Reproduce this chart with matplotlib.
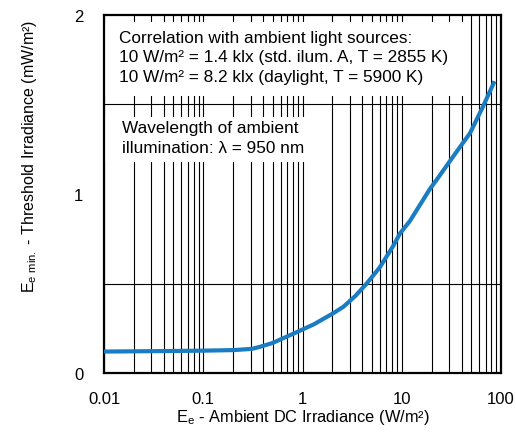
import matplotlib
matplotlib.use('Agg')
import matplotlib.pyplot as plt
from matplotlib.patches import Rectangle
from matplotlib.ticker import FixedLocator, LogLocator, NullFormatter

plt.rcParams['font.family'] = ['Liberation Sans', 'DejaVu Sans']
plt.rcParams['mathtext.fontset'] = 'custom'
plt.rcParams['mathtext.rm'] = 'Liberation Sans'

# curve
ambient = [0.01, 0.05, 0.1, 0.2, 0.31, 0.37, 0.5, 0.81, 1.3, 2.04, 2.58, 3.4,
           4.43, 6.0, 8.2, 9.6, 12.1, 19.3, 22.5, 33, 48.7, 66, 86]
threshold = [0.12, 0.123, 0.125, 0.128, 0.135, 0.146, 0.168, 0.22, 0.272, 0.334, 0.37, 0.43,
             0.50, 0.59, 0.71, 0.78, 0.85, 1.03, 1.08, 1.21, 1.34, 1.49, 1.63]

x_ticks = [0.01, 0.1, 1, 10, 100]
x_ticklabels = ['0.01', '0.1', '1', '10', '100']
y_ticks = [0, 1, 2]
y_grid = [0.5, 1.0, 1.5]

note1 = ['Correlation with ambient light sources:',
         '10 W/m\u00b2 = 1.4 klx (std. ilum. A, T = 2855 K)',
         '10 W/m\u00b2 = 8.2 klx (daylight, T = 5900 K)']
note2 = ['Wavelength of ambient',
         'illumination: \u03bb = 950 nm']

fig = plt.figure(figsize=(5.16, 4.39), dpi=100)
ax = fig.add_axes([0.2016, 0.148, 0.7694, 0.8156])

ax.set_xscale('log')
ax.set_xlim(0.01, 100)
ax.set_ylim(0, 2)

# grid: every decade subdivision vertically, 0.5 steps horizontally
ax.xaxis.set_major_locator(FixedLocator(x_ticks))
ax.xaxis.set_minor_locator(LogLocator(base=10, subs=range(2, 10)))
ax.xaxis.set_minor_formatter(NullFormatter())
ax.set_xticklabels(x_ticklabels)
ax.set_yticks(y_ticks)
ax.yaxis.set_minor_locator(FixedLocator(y_grid))
ax.grid(True, which='both', axis='x', color='black', lw=0.8, zorder=1)
ax.grid(True, which='minor', axis='y', color='black', lw=0.8, zorder=1)
ax.tick_params(which='both', length=0, labelsize=12)
ax.tick_params(axis='x', pad=13)
ax.tick_params(axis='y', pad=15)
ax.set_axisbelow(True)

for sp in ax.spines.values():
    sp.set_linewidth(1.6)

# white backgrounds behind the notes
ax.add_patch(Rectangle((0, 0.774), 0.917, 0.206, transform=ax.transAxes,
                       facecolor='white', edgecolor='none', zorder=2))
ax.add_patch(Rectangle((0, 0.589), 0.52, 0.126, transform=ax.transAxes,
                       facecolor='white', edgecolor='none', zorder=2))

ax.plot(ambient, threshold, color='#1a7dc4', lw=3, zorder=3, solid_capstyle='butt')

for i, line in enumerate(note1):
    ax.text(0.038, 0.9254 - i * 0.0545, line, transform=ax.transAxes, fontsize=12.4,
            va='baseline', ha='left', zorder=4)
for i, line in enumerate(note2):
    ax.text(0.045, 0.6723 - i * 0.0541, line, transform=ax.transAxes, fontsize=12.4,
            va='baseline', ha='left', zorder=4)

ax.set_xlabel('E$_\\mathregular{e}$ - Ambient DC Irradiance (W/m\u00b2)', fontsize=11.8)
ax.set_ylabel('E$_\\mathregular{e\\ min.}$ - Threshold Irradiance (mW/m\u00b2)', fontsize=11.5)
ax.xaxis.set_label_coords(0.5, -0.095)
ax.yaxis.set_label_coords(-0.165, 0.607)

fig.savefig('out.png', dpi=100)
